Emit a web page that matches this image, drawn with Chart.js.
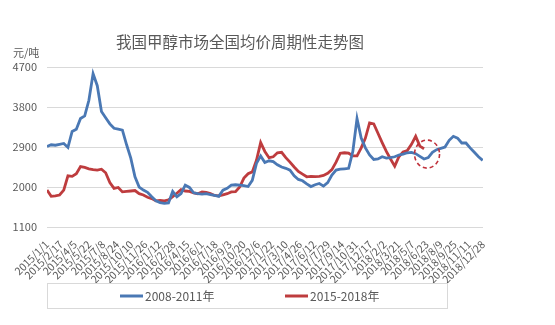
<!DOCTYPE html>
<html lang="zh-CN">
<head>
    <meta charset="UTF-8">
    <title>我国甲醇市场全国均价周期性走势图</title>
    <style>
        body {
            margin: 0;
            padding: 0;
            background-color: #fff;
        }
        #wrap {
            width: 555px;
            height: 325px;
        }
    </style>
    <script src="https://cdn.jsdelivr.net/npm/chart.js"></script>
</head>
<body>
    <div id="wrap">
        <canvas id="priceChart" width="555" height="325"></canvas>
    </div>

    <script>
        // Axis labels (one every 47 days, 2015/1/1 .. 2018/12/28)
        const tickLabels = [
            '2015/1/1', '2015/2/17', '2015/4/5', '2015/5/22', '2015/7/8', '2015/8/24',
            '2015/10/10', '2015/11/26', '2016/1/12', '2016/2/28', '2016/4/15', '2016/6/1',
            '2016/7/18', '2016/9/3', '2016/10/20', '2016/12/6', '2017/1/22', '2017/3/10',
            '2017/4/26', '2017/6/12', '2017/7/29', '2017/9/14', '2017/10/31', '2017/12/17',
            '2018/2/2', '2018/3/21', '2018/5/7', '2018/6/23', '2018/8/9', '2018/9/25',
            '2018/11/11', '2018/12/28'
        ];
        const LABEL_STEP = 47;   // days between axis labels
        const SAMPLE_STEP = 14;  // days between price samples

        const seriesNames = ['2008-2011年', '2015-2018年'];

        // 2008-2011 prices, shifted onto the 2015-2018 calendar (元/吨)
        const prices0811 = [
            2910, 2950, 2940, 2960, 2980, 2890, 3250, 3300, 3540, 3600,
            3950, 4550, 4280, 3700, 3560, 3420, 3320, 3300, 3280, 2950,
            2650, 2230, 2000, 1930, 1880, 1780, 1690, 1650, 1630, 1640,
            1900, 1780, 1850, 2040, 1990, 1870, 1850, 1840, 1850, 1830,
            1810, 1790, 1930, 1970, 2040, 2050, 2040, 2030, 2010, 2150,
            2530, 2700, 2550, 2590, 2570, 2500, 2450, 2420, 2380, 2250,
            2170, 2140, 2070, 2010, 2050, 2080, 2020, 2100, 2270, 2380,
            2400, 2410, 2420, 2800, 3540, 3100, 2880, 2720, 2620, 2630,
            2680, 2650, 2660, 2680, 2720, 2740, 2770, 2780, 2750, 2690,
            2630, 2660, 2780, 2840, 2870, 2900, 3050, 3140, 3100, 2990,
            2990, 2880, 2780, 2680, 2600
        ];

        // 2015-2018 prices (元/吨)
        const prices1518 = [
            1930, 1790, 1800, 1820, 1930, 2250, 2240, 2300, 2460, 2440,
            2410, 2390, 2380, 2400, 2320, 2100, 1970, 1990, 1890, 1900,
            1910, 1920, 1850, 1820, 1770, 1740, 1690, 1700, 1690, 1710,
            1780, 1860, 1940, 1910, 1900, 1870, 1850, 1890, 1880, 1850,
            1810, 1800, 1825, 1850, 1890, 1895, 2000, 2200, 2300, 2340,
            2600, 3000, 2800, 2660, 2680, 2770, 2780, 2660, 2560, 2450,
            2350, 2290, 2230, 2240, 2235, 2240, 2260, 2310, 2390, 2560,
            2760, 2770, 2760, 2700, 2700, 2880, 3100, 3440, 3420, 3210,
            3000, 2800, 2630, 2470, 2680, 2790, 2820, 2960, 3140, 2920,
            2860
        ];

        const yTicks = [1100, 2000, 2900, 3800, 4700];

        // Highlighted spot (day offset, price)
        const highlight = { day: 1270, price: 2740 };

        const toPoints = arr => arr.map((v, i) => ({ x: i * SAMPLE_STEP, y: v }));

        const FONT = '"Noto Sans CJK SC", "Noto Sans", sans-serif';
        const TEXT = '#595959';
        const BLUE = '#4a78b4';
        const RED = '#be3c3e';

        // Title, unit label, dashed ring and boxed legend
        const decorations = {
            id: 'decorations',
            afterDatasetsDraw(chart) {
                const ctx = chart.ctx;
                const xs = chart.scales.x, ys = chart.scales.y;
                ctx.save();
                ctx.strokeStyle = '#c0303a';
                ctx.lineWidth = 1.6;
                ctx.setLineDash([4, 3]);
                ctx.beginPath();
                ctx.ellipse(xs.getPixelForValue(highlight.day), ys.getPixelForValue(highlight.price),
                    12.5, 14, 0, 0, Math.PI * 2);
                ctx.stroke();
                ctx.restore();
            },
            afterDraw(chart) {
                const ctx = chart.ctx;
                ctx.save();
                ctx.fillStyle = TEXT;
                ctx.textBaseline = 'middle';

                ctx.font = '15.5px ' + FONT;
                ctx.textAlign = 'center';
                ctx.fillText('我国甲醇市场全国均价周期性走势图', 240, 42);

                ctx.font = '11px ' + FONT;
                ctx.textAlign = 'left';
                ctx.fillText('元/吨', 13, 53);

                // legend frame
                ctx.strokeStyle = '#d9d9d9';
                ctx.lineWidth = 1;
                ctx.strokeRect(47.5, 283.5, 400, 25);

                const items = [
                    { x: 120, color: BLUE, text: seriesNames[0] },
                    { x: 285, color: RED, text: seriesNames[1] }
                ];
                ctx.font = '12px ' + FONT;
                items.forEach(it => {
                    ctx.strokeStyle = it.color;
                    ctx.lineWidth = 3;
                    ctx.beginPath();
                    ctx.moveTo(it.x, 296);
                    ctx.lineTo(it.x + 23, 296);
                    ctx.stroke();
                    ctx.fillStyle = TEXT;
                    ctx.fillText(it.text, it.x + 25, 296);
                });
                ctx.restore();
            }
        };

        const ctx = document.getElementById('priceChart').getContext('2d');
        const priceChart = new Chart(ctx, {
            type: 'line',
            data: {
                datasets: [
                    {
                        label: seriesNames[0],
                        data: toPoints(prices0811),
                        borderColor: BLUE,
                        borderWidth: 2.8,
                        pointRadius: 0,
                        tension: 0
                    },
                    {
                        label: seriesNames[1],
                        data: toPoints(prices1518),
                        borderColor: RED,
                        borderWidth: 2.8,
                        pointRadius: 0,
                        tension: 0
                    }
                ]
            },
            options: {
                responsive: false,
                animation: false,
                layout: {
                    padding: { left: 0, right: 72, top: 67, bottom: 0 }
                },
                plugins: {
                    legend: { display: false },
                    title: { display: false },
                    tooltip: { enabled: false }
                },
                scales: {
                    x: {
                        type: 'linear',
                        min: 0,
                        max: LABEL_STEP * (tickLabels.length - 1),
                        grid: { display: false },
                        border: { display: false },
                        ticks: {
                            stepSize: LABEL_STEP,
                            autoSkip: false,
                            minRotation: 45,
                            maxRotation: 45,
                            padding: 3,
                            color: TEXT,
                            font: { family: FONT, size: 10.5 },
                            callback: value => tickLabels[Math.round(value / LABEL_STEP)]
                        },
                        afterFit: scale => { scale.height = 98; }
                    },
                    y: {
                        min: yTicks[0],
                        max: yTicks[yTicks.length - 1],
                        grid: {
                            color: '#d9d9d9',
                            drawTicks: false
                        },
                        border: { display: false },
                        afterBuildTicks: scale => {
                            scale.ticks = yTicks.map(v => ({ value: v }));
                        },
                        ticks: {
                            padding: 10,
                            color: TEXT,
                            font: { family: FONT, size: 11 },
                            callback: value => String(value)
                        },
                        afterFit: scale => { scale.width = 47; }
                    }
                }
            },
            plugins: [decorations]
        });
    </script>
</body>
</html>
